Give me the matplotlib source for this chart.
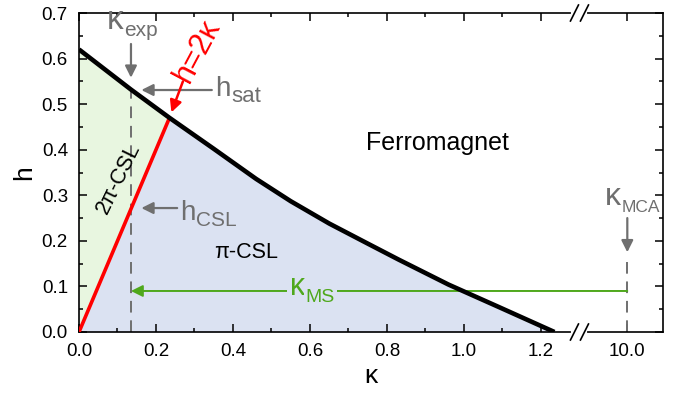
import numpy as np
import matplotlib
matplotlib.use("Agg")
import matplotlib.pyplot as plt

plt.rcParams['font.family'] = ['Liberation Sans', 'DejaVu Sans']

# saturation field h_sat(kappa) -- phase boundary to the ferromagnet
kappa_sat = [0.0, 0.135, 0.235, 0.35, 0.46, 0.55, 0.65, 0.75, 0.83, 0.96, 1.09, 1.235]
h_sat = [0.620, 0.532, 0.470, 0.402, 0.336, 0.287, 0.238, 0.194, 0.159, 0.104, 0.055, 0.0]

# 2pi-CSL / pi-CSL boundary h = 2 kappa
kappa_line = [0.0, 0.235]
h_line = [0.0, 0.47]

kappa_exp = 0.135
kappa_mca = 10.0
h_ms = 0.09

major_ticks = [0.0, 0.2, 0.4, 0.6, 0.8, 1.0, 1.2, 10.0]
major_labels = ['0.0', '0.2', '0.4', '0.6', '0.8', '1.0', '1.2', '10.0']
minor_ticks = [0.1, 0.3, 0.5, 0.7, 0.9, 1.1]

GRAY = '#6f6f6f'
GREEN = '#4fa81c'
FILL_GREEN = '#e8f6e0'
FILL_BLUE = '#dbe2f2'

BRK = 1.3
SQZ = 70.0


def fwd(x):
    x = np.asarray(x, dtype=float)
    return np.where(x <= BRK, x, BRK + (x - BRK) / SQZ)


def inv(y):
    y = np.asarray(y, dtype=float)
    return np.where(y <= BRK, y, BRK + (y - BRK) * SQZ)


fig = plt.figure(figsize=(6.88, 3.95), dpi=100)
ax = fig.add_axes([79 / 688, 1 - 332 / 395, 584 / 688, 319 / 395])
ax.set_xscale('function', functions=(fwd, inv))
ax.set_xlim(0, BRK + 0.217 * SQZ)
ax.set_ylim(0, 0.7)


def sub_label(x, y, main, sub, color, size, subsize, dx=0, bbox=None, zorder=6):
    t = ax.annotate(main, xy=(x, y), xytext=(dx, 0), textcoords='offset points',
                    color=color, fontsize=size, ha='left', va='baseline',
                    bbox=bbox, zorder=zorder)
    ax.annotate(sub, xy=(1, 0), xycoords=t, xytext=(0.5, 0), textcoords='offset points',
                color=color, fontsize=subsize, ha='left', va='baseline',
                bbox=bbox, zorder=zorder)


# phase regions
k_sat = np.array(kappa_sat)
hs = np.array(h_sat)
left = k_sat <= kappa_line[1]
ax.fill_between(k_sat[left], 2 * k_sat[left], hs[left], color=FILL_GREEN, lw=0, zorder=1)
k_blue = np.r_[kappa_line[0], k_sat[k_sat >= kappa_line[1]]]
h_blue = np.r_[h_line[0], hs[k_sat >= kappa_line[1]]]
ax.fill_between(k_blue, 0, h_blue, color=FILL_BLUE, lw=0, zorder=1)

# dashed guides
ax.plot([kappa_exp, kappa_exp], [0, 0.532], color=GRAY, lw=1.4, ls=(0, (6, 4)), zorder=2)
ax.plot([kappa_mca, kappa_mca], [0, 0.16], color=GRAY, lw=1.4, ls=(0, (6, 4)), zorder=2)

ax.plot(kappa_line, h_line, color='red', lw=2.6, zorder=4, solid_capstyle='butt')
ax.plot(kappa_sat, h_sat, color='black', lw=3.3, zorder=5, solid_capstyle='butt',
        solid_joinstyle='round')

arrow = dict(arrowstyle='-|>,head_length=0.7,head_width=0.35', color=GRAY, lw=1.6,
             shrinkA=0, shrinkB=0)

# kappa_exp
ax.annotate('', xy=(kappa_exp, 0.558), xytext=(kappa_exp, 0.632), arrowprops=arrow, zorder=6)
sub_label(0.073, 0.664, 'κ', 'exp', GRAY, 24, 15)

# h_sat
ax.annotate('', xy=(0.162, 0.531), xytext=(0.345, 0.531), arrowprops=arrow, zorder=6)
sub_label(0.353, 0.518, 'h', 'sat', GRAY, 20, 16)

# h_CSL
ax.annotate('', xy=(0.162, 0.272), xytext=(0.255, 0.272), arrowprops=arrow, zorder=6)
sub_label(0.262, 0.245, 'h', 'CSL', GRAY, 20, 15)

# kappa_MCA
ax.annotate('', xy=(kappa_mca, 0.175), xytext=(kappa_mca, 0.25), arrowprops=arrow, zorder=6)
sub_label(kappa_mca, 0.279, 'κ', 'MCA', GRAY, 23, 12.5, dx=-16)

# kappa_MS
ms_arrow = dict(arrowstyle='-|>,head_length=0.7,head_width=0.35', color=GREEN, lw=1.4,
                shrinkA=0, shrinkB=0)
ax.annotate('', xy=(kappa_exp, h_ms), xytext=(kappa_mca, h_ms), arrowprops=ms_arrow, zorder=3)
sub_label(0.548, 0.081, 'κ', 'MS', GREEN, 22, 14, zorder=4,
          bbox=dict(boxstyle='square,pad=0.1', fc=FILL_BLUE, ec='none'))

# h = 2 kappa
red_arrow = dict(arrowstyle='-|>,head_length=0.7,head_width=0.35', color='red', lw=1.8,
                 shrinkA=0, shrinkB=0)
ax.annotate('', xy=(0.240, 0.482), xytext=(0.270, 0.550), arrowprops=red_arrow, zorder=6)
ax.text(0.268, 0.553, 'h=2κ', color='red', fontsize=22, rotation=62,
        rotation_mode='anchor', ha='left', va='center')

# phase names
ax.text(0.104, 0.338, '2π-CSL', fontsize=15.5, rotation=64, ha='center', va='center', zorder=6)
ax.text(0.434, 0.174, 'π-CSL', fontsize=15.5, ha='center', va='center', zorder=6)
ax.text(0.93, 0.415, 'Ferromagnet', fontsize=18, ha='center', va='center', zorder=6)

ax.set_xticks(major_ticks)
ax.set_xticklabels(major_labels)
ax.set_xticks(minor_ticks, minor=True)
ax.set_yticks(np.arange(0, 0.71, 0.1))
ax.set_yticklabels(['0.0', '0.1', '0.2', '0.3', '0.4', '0.5', '0.6', '0.7'])
ax.set_yticks(np.arange(0.05, 0.7, 0.1), minor=True)
ax.tick_params(which='both', direction='in', top=True, right=True, labelsize=13.5,
               width=1.1, pad=8)
ax.tick_params(which='major', length=6)
ax.tick_params(which='minor', length=3)
for s in ax.spines.values():
    s.set_linewidth(1.2)

ax.set_xlabel('κ', fontsize=19, labelpad=3)
ax.set_ylabel('h', fontsize=19, labelpad=4)

# axis break marks
f = BRK / (BRK + 0.217)
for y in (0.0, 1.0):
    ax.plot([f - 6 / 584, f + 6 / 584], [y, y], transform=ax.transAxes, color='white',
            lw=3, clip_on=False, zorder=10)
    for dx in (-5, 5):
        ax.plot([f + (dx - 4) / 584, f + (dx + 4) / 584], [y - 8 / 319, y + 8 / 319],
                transform=ax.transAxes, color='black', lw=1.2, clip_on=False, zorder=11)

fig.savefig('out.png', dpi=100)
